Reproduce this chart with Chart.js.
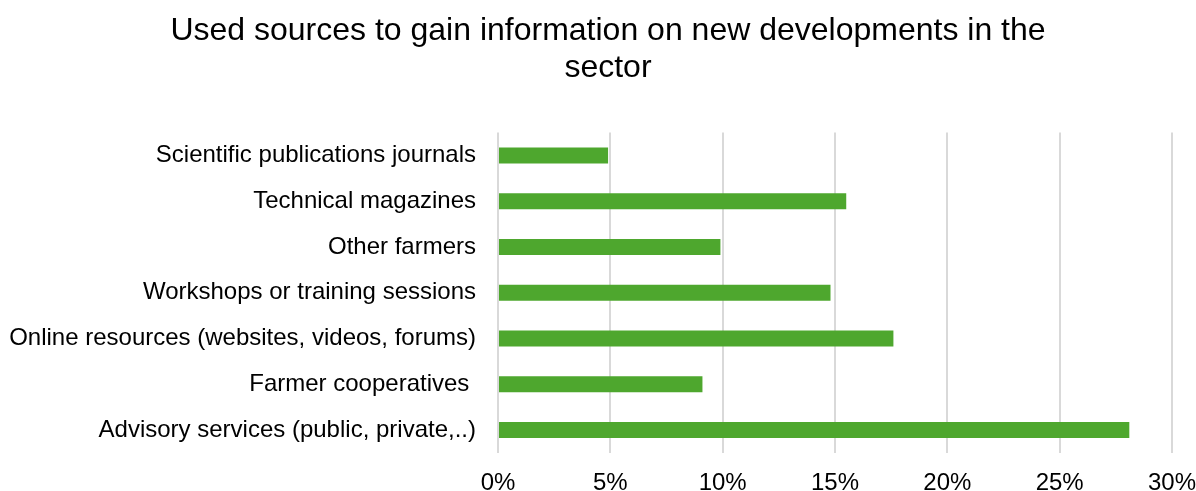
<!DOCTYPE html>
<html>
<head>
<meta charset="utf-8">
<title>Used sources</title>
<script src="https://cdn.jsdelivr.net/npm/chart.js@4/dist/chart.umd.min.js"></script>
<style>
  html, body { margin: 0; padding: 0; background: #fff; }
  #wrap { width: 1196px; height: 491px; }
</style>
</head>
<body>
<div id="wrap"><canvas id="sourcesChart"></canvas></div>
<script>
const titleLines = ['Used sources to gain information on new developments in the', 'sector'];

const sources = [
  'Scientific publications journals',
  'Technical magazines',
  'Other farmers',
  'Workshops or training sessions',
  'Online resources (websites, videos, forums)',
  'Farmer cooperatives ',
  'Advisory services (public, private,..)'
];

// share of respondents, percent
const shares = [4.9, 15.5, 9.9, 14.8, 17.6, 9.1, 28.1];

const xTicks = [0, 5, 10, 15, 20, 25, 30];

const FONT = "'Liberation Sans', Arial, sans-serif";

// nudge the title a little to the right of the canvas centre
const titleShift = {
  id: 'titleShift',
  afterLayout(chart) {
    const t = chart.titleBlock;
    if (t) { t.left += 5; t.right += 5; }
  }
};

new Chart(document.getElementById('sourcesChart'), {
  type: 'bar',
  data: {
    labels: sources,
    datasets: [{
      data: shares,
      backgroundColor: '#4ea72e',
      borderWidth: 0,
      categoryPercentage: 1,
      barPercentage: 0.35
    }]
  },
  plugins: [titleShift],
  options: {
    indexAxis: 'y',
    responsive: true,
    maintainAspectRatio: false,
    animation: false,
    layout: { padding: { left: 10, right: 0, top: 13, bottom: 0 } },
    plugins: {
      legend: { display: false },
      tooltip: { enabled: false },
      title: {
        display: true,
        text: titleLines,
        color: '#000',
        font: { family: FONT, size: 32, weight: 'normal', lineHeight: 1.15 },
        padding: { top: 0, bottom: 46 }
      }
    },
    scales: {
      x: {
        min: 0,
        max: 30,
        afterBuildTicks: (axis) => { axis.ticks = xTicks.map(v => ({ value: v })); },
        afterFit: (s) => {
          s.height = 38;
          s.paddingLeft = 0; s.paddingRight = 24;
          s.paddingTop = 0; s.paddingBottom = 0;
        },
        ticks: {
          color: '#000',
          font: { family: FONT, size: 24, lineHeight: 1 },
          padding: 18,
          callback: (v) => v + '%'
        },
        grid: { color: '#d9d9d9', lineWidth: 2, drawTicks: false },
        border: { display: false }
      },
      y: {
        afterFit: (s) => { s.width = 488; s.paddingTop = 0; s.paddingBottom = 0; },
        ticks: {
          color: '#000',
          font: { family: FONT, size: 24 },
          padding: 22
        },
        grid: { display: false, drawTicks: false },
        border: { display: false }
      }
    }
  }
});
</script>
</body>
</html>
